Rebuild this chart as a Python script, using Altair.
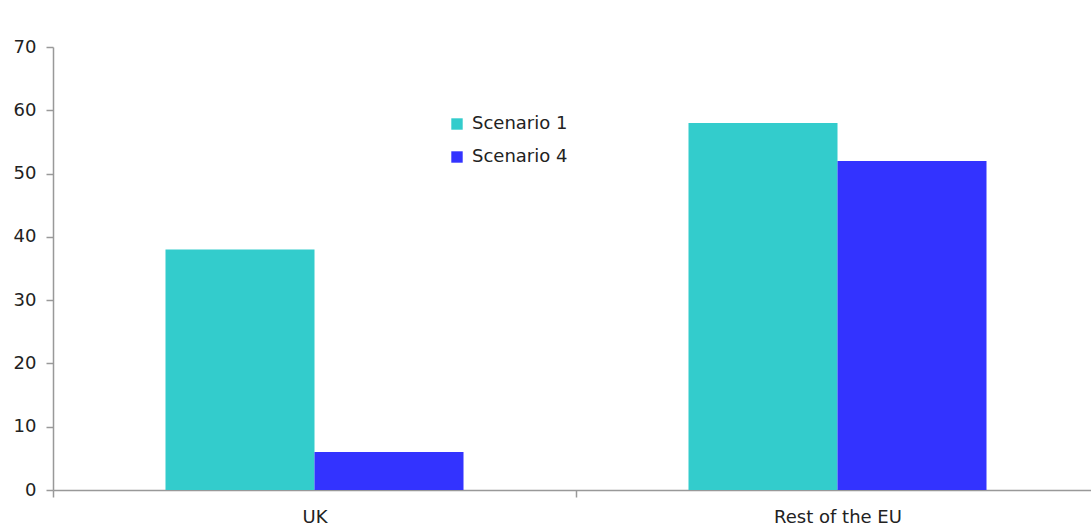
import altair as alt
import pandas as pd

regions = ["UK", "Rest of the EU"]
scenarios = ["Scenario 1", "Scenario 4"]
scenario1 = [38, 58]
scenario4 = [6, 52]
colors = ["#33CCCC", "#3333FF"]
y_ticks = [0, 10, 20, 30, 40, 50, 60, 70]

rows = []
for r, v1, v4 in zip(regions, scenario1, scenario4):
    rows.append({"region": r, "scenario": scenarios[0], "value": v1})
    rows.append({"region": r, "scenario": scenarios[1], "value": v4})
df = pd.DataFrame(rows)

font = "DejaVu Sans"

chart = alt.Chart(df).mark_bar().encode(
    x=alt.X("region:N", sort=regions, title=None,
            scale=alt.Scale(paddingInner=0, paddingOuter=0, range=[0, 1046]),
            axis=alt.Axis(labelAngle=0, tickBand="extent", tickSize=7,
                          labelPadding=11, labelFontSize=18, labelFont=font,
                          labelColor="#222222", domainColor="#999999",
                          tickColor="#999999", domainWidth=1.5, tickWidth=1.5)),
    xOffset=alt.XOffset("scenario:N", sort=scenarios,
                        scale=alt.Scale(paddingInner=0, paddingOuter=0.755)),
    y=alt.Y("value:Q", title=None,
            scale=alt.Scale(domain=[0, 70], nice=False),
            axis=alt.Axis(values=y_ticks, grid=False, tickSize=7, labelPadding=10,
                          labelFontSize=18, labelFont=font, labelColor="#222222",
                          domainColor="#999999", tickColor="#999999",
                          domainWidth=1.5, tickWidth=1.5)),
    color=alt.Color("scenario:N", sort=scenarios, title=None,
                    scale=alt.Scale(domain=scenarios, range=colors),
                    legend=alt.Legend(orient="none", legendX=395, legendY=68,
                                      symbolType="square", symbolSize=130,
                                      symbolStrokeWidth=0, labelFontSize=18,
                                      labelFont=font, labelColor="#222222",
                                      rowPadding=15, labelOffset=6)),
).properties(
    width=1038,
    height=443,
    autosize=alt.AutoSizeParams(type="none"),
    padding={"left": 53, "top": 47, "right": 0, "bottom": 40},
).configure_view(stroke=None)

chart.save("out.html", embed_options={"renderer": "svg", "actions": False})
